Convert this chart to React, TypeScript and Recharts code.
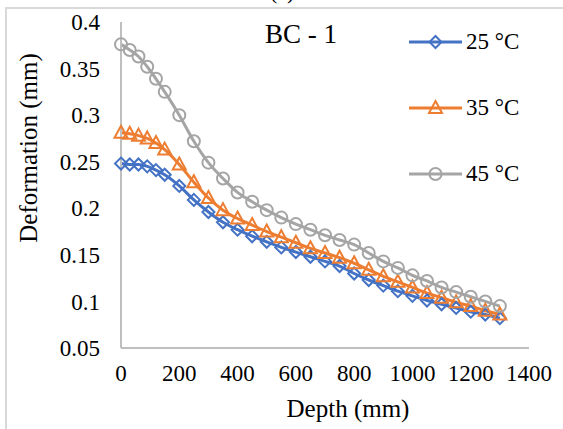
import React from 'react';
import { LineChart, Line, XAxis, YAxis, Legend } from 'recharts';

const depth = [0, 30, 60, 90, 120, 150, 200, 250, 300, 350, 400, 450, 500, 550, 600, 650, 700, 750, 800, 850, 900, 950, 1000, 1050, 1100, 1150, 1200, 1250, 1300];
const temp25 = [0.248, 0.247, 0.247, 0.245, 0.241, 0.236, 0.224, 0.209, 0.196, 0.185, 0.177, 0.17, 0.164, 0.158, 0.153, 0.148, 0.143, 0.138, 0.13, 0.123, 0.117, 0.111, 0.106, 0.101, 0.097, 0.093, 0.089, 0.086, 0.082];
const temp35 = [0.281, 0.28, 0.278, 0.275, 0.27, 0.263, 0.247, 0.228, 0.211, 0.198, 0.189, 0.182, 0.175, 0.169, 0.163, 0.157, 0.152, 0.147, 0.141, 0.134, 0.127, 0.121, 0.115, 0.109, 0.104, 0.099, 0.095, 0.09, 0.086];
const temp45 = [0.376, 0.37, 0.363, 0.352, 0.339, 0.325, 0.3, 0.272, 0.249, 0.232, 0.217, 0.207, 0.198, 0.19, 0.183, 0.177, 0.171, 0.166, 0.161, 0.152, 0.143, 0.136, 0.128, 0.122, 0.115, 0.11, 0.105, 0.1, 0.095];
const xTicks = [0, 200, 400, 600, 800, 1000, 1200, 1400];
const yTicks = [0.05, 0.1, 0.15, 0.2, 0.25, 0.3, 0.35, 0.4];

const data = depth.map((d, i) => ({ depth: d, t25: temp25[i], t35: temp35[i], t45: temp45[i] }));

const BLUE = '#4472C4';
const ORANGE = '#ED7D31';
const GRAY = '#A5A5A5';
const FONT = '"Liberation Serif", "Times New Roman", serif';

const shape = (kind: string, cx: number, cy: number, color: string, key?: string) => {
  if (kind === 'diamond') {
    return <path key={key} d={`M${cx} ${cy - 6}L${cx + 6} ${cy}L${cx} ${cy + 6}L${cx - 6} ${cy}Z`} fill="none" stroke={color} strokeWidth={2} />;
  }
  if (kind === 'triangle') {
    return <path key={key} d={`M${cx} ${cy - 7}L${cx + 6.5} ${cy + 5}L${cx - 6.5} ${cy + 5}Z`} fill="none" stroke={color} strokeWidth={2} />;
  }
  return <circle key={key} cx={cx} cy={cy} r={6} fill="none" stroke={color} strokeWidth={2} />;
};

const dotFor = (kind: string, color: string) => (props: any) =>
  shape(kind, props.cx, props.cy, color, `${kind}-${props.index}`);

const series = [
  { key: 't25', name: '25 °C', color: BLUE, kind: 'diamond' },
  { key: 't35', name: '35 °C', color: ORANGE, kind: 'triangle' },
  { key: 't45', name: '45 °C', color: GRAY, kind: 'circle' },
];

const LegendBox = () => (
  <div>
    {series.map((s) => (
      <div key={s.key} style={{ display: 'flex', alignItems: 'center', height: 66, fontFamily: FONT, fontSize: 23, color: '#000' }}>
        <svg width={60} height={20}>
          <line x1={3} y1={10} x2={56} y2={10} stroke={s.color} strokeWidth={3} />
          {shape(s.kind, 29.5, 10, s.color)}
        </svg>
        <span>{s.name}</span>
      </div>
    ))}
  </div>
);

// axis titles sit where the original figure had them
const YTitle = () => (
  <text x={28} y={148} transform="rotate(-90 28 148)" textAnchor="middle" dominantBaseline="central" fontFamily={FONT} fontSize={25} fill="#000">
    Deformation (mm)
  </text>
);

const XTitle = () => (
  <text x={348} y={408} textAnchor="middle" dominantBaseline="central" fontFamily={FONT} fontSize={25} fill="#000">
    Depth (mm)
  </text>
);

export default function App() {
  return (
    <div style={{ position: 'absolute', left: 0, top: 0, width: 563, height: 429, overflow: 'hidden', background: '#fff' }}>
      <div style={{ position: 'absolute', left: 5, top: 7, width: 620, height: 500, border: '2px solid #d9d9d9' }} />
      <div style={{ position: 'absolute', left: 270, top: -19, fontFamily: FONT, fontSize: 22, lineHeight: '22px' }}>(c)</div>
      <div style={{ position: 'absolute', left: 265, top: 19, fontFamily: FONT, fontSize: 27, lineHeight: '30px' }}>BC - 1</div>
      <LineChart width={563} height={429} data={data} margin={{ top: 22, right: 34, left: 0, bottom: 0 }} style={{ position: 'absolute', left: 0, top: 0 }}>
        <XAxis
          dataKey="depth"
          type="number"
          domain={[0, 1400]}
          ticks={xTicks}
          interval={0}
          height={81}
          tickLine={false}
          tickSize={0}
          tickMargin={17}
          axisLine={{ stroke: '#bfbfbf', strokeWidth: 2 }}
          tick={{ fontFamily: FONT, fontSize: 23, fill: '#000' }}
          label={<XTitle />}
        />
        <YAxis
          type="number"
          domain={[0.05, 0.4]}
          ticks={yTicks}
          interval={0}
          width={121}
          tickLine={false}
          tickSize={0}
          tickMargin={21}
          axisLine={{ stroke: '#bfbfbf', strokeWidth: 2 }}
          tick={{ fontFamily: FONT, fontSize: 23, fill: '#000' }}
          label={<YTitle />}
        />
        <Legend
          layout="vertical"
          verticalAlign="middle"
          align="center"
          content={<LegendBox />}
          wrapperStyle={{ position: 'absolute', left: 406, top: 9, width: 157 }}
        />
        {series.map((s) => (
          <Line
            key={s.key}
            type="monotone"
            dataKey={s.key}
            name={s.name}
            stroke={s.color}
            strokeWidth={3}
            dot={dotFor(s.kind, s.color)}
            activeDot={false}
            isAnimationActive={false}
          />
        ))}
      </LineChart>
    </div>
  );
}
